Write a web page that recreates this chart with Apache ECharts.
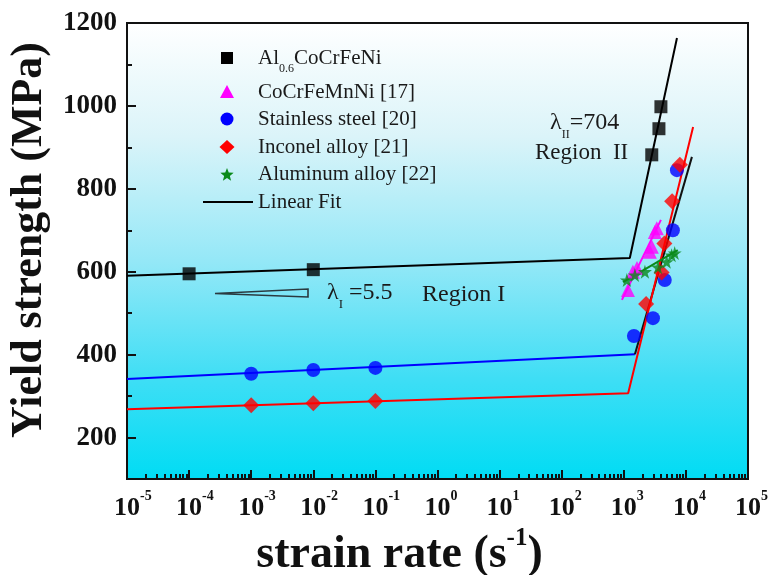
<!DOCTYPE html>
<html><head><meta charset="utf-8">
<script src="https://cdn.jsdelivr.net/npm/echarts@6/dist/echarts.min.js"></script>
<style>html,body{margin:0;padding:0;background:#fff}#c{width:769px;height:575px}</style>
</head><body><div id="c"></div>
<script>
// ---- tick labels ----
const xMajorTicks = [1e-5,1e-4,1e-3,1e-2,1e-1,1,10,100,1000,1e4,1e5];
const yMajorTicks = [200,400,600,800,1000,1200];
const yMinorTicks = [100,300,500,700,900,1100];

// ---- data (strain rate s^-1, yield strength MPa) ----
const alCoCrFeNi = [[1e-4,595],[1e-2,605],[2820,882],[3680,945],[3960,998]];
const coCrFeMnNi = [[1165,556],[1400,600],[1630,609],[2630,648],[2830,660],[3160,696],[3400,705]];
const stainless  = [[1e-3,354],[1e-2,363],[1e-1,368],[1455,445],[2950,488],[4570,580],[6170,700],[7170,845]];
const inconel    = [[1e-3,278],[1e-2,283],[1e-1,288],[2290,522],[4070,598],[4500,668],[6000,770],[8000,858]];
const aluminum   = [[1120,580],[1510,592],[2190,600],[3550,611],[4900,624],[5900,640],[6600,645]];

// ---- linear fits ----
const fitAl        = [[1e-5,590],[1250,633],[7180,1164]];
const fitStainless = [[1e-5,341],[1510,401]];
const fitStainlessII = [[1510,401],[12500,877]];
const fitInconel   = [[1e-5,268],[1175,307],[13060,949]];
const fitCoCr      = [[933,532],[3960,725]];
const fitAlumin    = [[970,575],[7400,652]];

// minor log ticks
const xMinorTicks = [];
for (let e = -5; e < 5; e++) for (let k = 2; k <= 9; k++) xMinorTicks.push(k * Math.pow(10, e));

const serif = '"Liberation Serif","Times New Roman",serif';
function expLabel(v){
  const e = Math.round(Math.log10(v));
  return '{h|' + e + '}{b|10}{s|' + e + '}';
}

const chart = echarts.init(document.getElementById('c'), null, {renderer:'canvas'});

function lineSeries(data, color, w){
  return {type:'line', data, xAxisIndex:0, yAxisIndex:0, showSymbol:false, symbol:'none',
    lineStyle:{color, width:w||2}, silent:true, animation:false, z:2};
}
function scatterSeries(name, data, symbol, size, color){
  return {type:'scatter', name, data, xAxisIndex:0, yAxisIndex:0, symbol, symbolSize:size,
    itemStyle:{color}, animation:false, z:3};
}

function starPts(cx, cy, R, r){
  const p=[];
  for(let i=0;i<10;i++){
    const a = -Math.PI/2 + i*Math.PI/5;
    const rr = i%2===0?R:r;
    p.push([cx+rr*Math.cos(a), cy+rr*Math.sin(a)]);
  }
  return p;
}

const legText = {fontFamily:serif, fontSize:21, fill:'#1a1a1a'};
const legX = 258, symX = 227;

const option = {
  backgroundColor:'#ffffff',
  animation:false,
  grid:{left:127, right:21, top:23, bottom:96, containLabel:false, outerBoundsMode:'none',
    show:true, borderColor:'#111', borderWidth:2,
    backgroundColor:{type:'linear', x:0, y:0, x2:0, y2:1, colorStops:[
      {offset:0, color:'#ffffff'},
      {offset:0.25, color:'#dbf4f9'},
      {offset:0.52, color:'#95e8f7'},
      {offset:0.78, color:'#3edef5'},
      {offset:1, color:'#00dcf4'}]}},
  xAxis:[{
    type:'log', logBase:10, min:1e-5, max:1e5, position:'bottom',
    name:'{t|strain rate (s}{s|-1}{t|)}', nameLocation:'middle', nameGap:34,
    nameTextStyle:{padding:[0,76,0,0], rich:{
      t:{fontFamily:serif, fontWeight:'bold', fontSize:46, color:'#111', verticalAlign:'bottom', lineHeight:52},
      s:{fontFamily:serif, fontWeight:'bold', fontSize:25, color:'#111', verticalAlign:'top', lineHeight:25}}},
    axisLine:{show:true, lineStyle:{color:'#111', width:2}},
    axisTick:{show:true, inside:true, length:9, lineStyle:{color:'#111', width:2}, customValues:xMajorTicks},
    axisLabel:{show:true, margin:10, customValues:xMajorTicks, formatter:expLabel,
      rich:{
        h:{fontFamily:serif, fontWeight:'bold', fontSize:14, color:'rgba(0,0,0,0)', verticalAlign:'top', lineHeight:14},
        b:{fontFamily:serif, fontWeight:'bold', fontSize:26, color:'#111', verticalAlign:'bottom', lineHeight:32},
        s:{fontFamily:serif, fontWeight:'bold', fontSize:14, color:'#111', verticalAlign:'top', lineHeight:14}}},
    splitLine:{show:false}, minorTick:{show:false}
  },{
    type:'log', logBase:10, min:1e-5, max:1e5, position:'bottom',
    axisLine:{show:false},
    axisTick:{show:true, inside:true, length:5, lineStyle:{color:'#111', width:2}, customValues:xMinorTicks},
    axisLabel:{show:false}, splitLine:{show:false}
  }],
  yAxis:[{
    type:'value', min:100, max:1200, position:'left',
    name:'Yield strength (MPa)', nameLocation:'middle', nameGap:74, nameRotate:90,
    nameTextStyle:{fontFamily:serif, fontWeight:'bold', fontSize:44, color:'#111', padding:[0,0,0,22]},
    axisLine:{show:true, lineStyle:{color:'#111', width:2}},
    axisTick:{show:true, inside:true, length:9, lineStyle:{color:'#111', width:2}, customValues:yMajorTicks},
    axisLabel:{show:true, margin:10, customValues:yMajorTicks, formatter:function(v){return String(v);},
      fontFamily:serif, fontWeight:'bold', fontSize:27, color:'#111'},
    splitLine:{show:false}
  },{
    type:'value', min:100, max:1200, position:'left',
    axisLine:{show:false},
    axisTick:{show:true, inside:true, length:5, lineStyle:{color:'#111', width:2}, customValues:yMinorTicks},
    axisLabel:{show:false}, splitLine:{show:false}
  }],
  series:[
    lineSeries(fitAl, '#000'),
    lineSeries(fitStainless, '#0000ff'),
    lineSeries(fitStainlessII, '#111'),
    lineSeries(fitInconel, '#ff0000'),
    lineSeries(fitCoCr, '#ff00ff'),
    lineSeries(fitAlumin, '#0a8a1a'),
    scatterSeries('Al0.6CoCrFeNi', alCoCrFeNi, 'rect', 13, '#000'),
    scatterSeries('CoCrFeMnNi [17]', coCrFeMnNi, 'triangle', 14, '#ff00ff'),
    scatterSeries('Stainless steel [20]', stainless, 'circle', 14, '#0000ff'),
    scatterSeries('Inconel alloy [21]', inconel, 'diamond', 16, '#ff0000'),
    scatterSeries('Aluminum alloy [22]', aluminum, 'path://M50,0 L61,35 L98,35 L68,57 L79,91 L50,70 L21,91 L32,57 L2,35 L39,35 Z', 14, '#0a8a1a')
  ],
  graphic:[
    {type:'rect', shape:{x:symX-6, y:52, width:12, height:12}, style:{fill:'#000'}},
    {type:'text', left:legX, top:48, style:{text:'{a|Al}{u|0.6}{a|CoCrFeNi}', rich:{
      a:{fontFamily:serif, fontSize:21, fill:'#1a1a1a', verticalAlign:'top', lineHeight:27},
      u:{fontFamily:serif, fontSize:12, fill:'#1a1a1a', verticalAlign:'bottom', lineHeight:12}}}},
    {type:'polygon', shape:{points:[[symX,85],[symX+7,98],[symX-7,98]]}, style:{fill:'#ff00ff'}},
    {type:'text', x:legX, y:92, style:Object.assign({text:'CoCrFeMnNi [17]', verticalAlign:'middle'}, legText)},
    {type:'circle', shape:{cx:symX, cy:119, r:6.5}, style:{fill:'#0000ff'}},
    {type:'text', x:legX, y:119, style:Object.assign({text:'Stainless steel [20]', verticalAlign:'middle'}, legText)},
    {type:'polygon', shape:{points:[[symX,140],[symX+7.5,147],[symX,154],[symX-7.5,147]]}, style:{fill:'#ff0000'}},
    {type:'text', x:legX, y:147, style:Object.assign({text:'Inconel alloy [21]', verticalAlign:'middle'}, legText)},
    {type:'polygon', shape:{points:starPts(symX,175,7,3)}, style:{fill:'#0a8a1a'}},
    {type:'text', x:legX, y:174, style:Object.assign({text:'Aluminum alloy [22]', verticalAlign:'middle'}, legText)},
    {type:'line', shape:{x1:203, y1:202, x2:253, y2:202}, style:{stroke:'#000', lineWidth:2}},
    {type:'text', x:legX, y:202, style:Object.assign({text:'Linear Fit', verticalAlign:'middle'}, legText)},
    {type:'polygon', shape:{points:[[215,293.5],[308,289],[308,297]]}, style:{fill:'none', stroke:'#2a3a40', lineWidth:1.6}},
    {type:'text', x:327, y:281, style:{text:'{a|λ}{u|I}{a| =5.5}', rich:{
      a:{fontFamily:serif, fontSize:24, fill:'#1a1a1a', verticalAlign:'top', lineHeight:30},
      u:{fontFamily:serif, fontSize:13, fill:'#1a1a1a', verticalAlign:'bottom', lineHeight:13}}}},
    {type:'text', x:422, y:295, style:{text:'Region I', fontFamily:serif, fontSize:24, fill:'#1a1a1a', verticalAlign:'middle'}},
    {type:'text', x:550, y:111, style:{text:'{a|λ}{u|II}{a|=704}', rich:{
      a:{fontFamily:serif, fontSize:24, fill:'#1a1a1a', verticalAlign:'top', lineHeight:30},
      u:{fontFamily:serif, fontSize:12, fill:'#1a1a1a', verticalAlign:'bottom', lineHeight:12}}}},
    {type:'text', x:535, y:153, style:{text:'Region  II', fontFamily:serif, fontSize:23, fill:'#1a1a1a', verticalAlign:'middle'}}
  ]
};
chart.setOption(option);
</script>
</body></html>
